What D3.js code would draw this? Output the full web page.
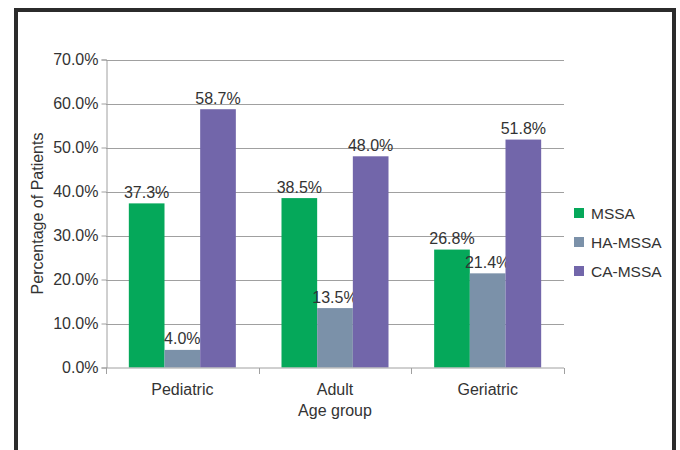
<!DOCTYPE html>
<html><head><meta charset="utf-8">
<script src="https://cdn.jsdelivr.net/npm/d3@7"></script>
<style>body{margin:0;background:#fff}svg{display:block}text{font-family:"Liberation Sans",Arial,sans-serif;fill:#333}</style>
</head><body>
<script>
const categories = ["Pediatric", "Adult", "Geriatric"];
const seriesNames = ["MSSA", "HA-MSSA", "CA-MSSA"];
const mssa = [37.3, 38.5, 26.8];
const haMssa = [4.0, 13.5, 21.4];
const caMssa = [58.7, 48.0, 51.8];
const yTicks = [0, 10, 20, 30, 40, 50, 60, 70];
const colors = ["#05a85a", "#7b91a9", "#7266aa"];

(function () {
const series = [mssa, haMssa, caMssa];
const W = 680, H = 450, FS = 16;
const svg = d3.select("body").append("svg").attr("width", W).attr("height", H);

// frame
svg.append("rect").attr("x", 16).attr("y", 10).attr("width", 658).attr("height", 460)
  .attr("fill", "none").attr("stroke", "#2b2b2b").attr("stroke-width", 4);

const pL = 106, pR = 564, pT = 59.5, pB = 367.5;
const x0 = d3.scaleBand().domain(categories).range([pL, pR]);
const x1 = d3.scaleBand().domain(seriesNames).range([0, x0.bandwidth()]).paddingOuter(0.64).paddingInner(0);
const y = d3.scaleLinear().domain([0, 70]).range([pB, pT]);

// gridlines
svg.append("g").selectAll("line").data(yTicks.filter(d => d > 0)).join("line")
  .attr("x1", pL).attr("x2", pR).attr("y1", d => Math.round(y(d)) + 0.5).attr("y2", d => Math.round(y(d)) + 0.5)
  .attr("stroke", "#a0a0a0").attr("stroke-width", 1);

// bars
const g = svg.append("g");
categories.forEach((c, i) => {
  seriesNames.forEach((s, j) => {
    const v = series[j][i];
    g.append("rect").attr("x", x0(c) + x1(s)).attr("width", x1.bandwidth())
      .attr("y", y(v)).attr("height", y(0) - y(v)).attr("fill", colors[j]);
    g.append("text").attr("x", x0(c) + x1(s) + x1.bandwidth() / 2).attr("y", y(v) - 5.5)
      .attr("text-anchor", "middle").attr("font-size", FS).text(v.toFixed(1) + "%");
  });
});

// y axis
const yAxis = d3.axisLeft(y).tickValues(yTicks).tickFormat(d => d.toFixed(1) + "%").tickSize(5).tickPadding(3);
const ya = svg.append("g").attr("transform", `translate(${pL + 0.5},0)`).call(yAxis);
ya.select(".domain").attr("stroke", "#a0a0a0");
ya.selectAll(".tick line").attr("stroke", "#a0a0a0");
ya.selectAll(".tick text").attr("font-size", FS).attr("fill", "#333").style("font-family", '"Liberation Sans",Arial,sans-serif');

// x axis
const xa = svg.append("g").attr("transform", `translate(0,${pB + 0.5})`);
xa.append("line").attr("x1", pL).attr("x2", pR).attr("stroke", "#a0a0a0");
const bounds = [pL, ...categories.map(c => x0(c) + x0.bandwidth())];
xa.selectAll("line.tk").data(bounds).join("line").attr("class", "tk")
  .attr("x1", d => Math.round(d) + 0.5).attr("x2", d => Math.round(d) + 0.5).attr("y1", 0).attr("y2", 6).attr("stroke", "#a0a0a0");
xa.selectAll("text").data(categories).join("text")
  .attr("x", d => x0(d) + x0.bandwidth() / 2).attr("y", 27).attr("text-anchor", "middle").attr("font-size", FS).text(d => d);

// axis titles
svg.append("text").attr("x", (pL + pR) / 2).attr("y", 416).attr("text-anchor", "middle").attr("font-size", FS).text("Age group");
svg.append("text").attr("transform", `translate(43,${(pT + pB) / 2}) rotate(-90)`).attr("text-anchor", "middle").attr("font-size", FS).text("Percentage of Patients");

// legend
const lg = svg.append("g").attr("transform", "translate(574,208)");
seriesNames.forEach((s, i) => {
  lg.append("rect").attr("x", 0).attr("y", i * 29).attr("width", 10).attr("height", 10).attr("fill", colors[i]);
  lg.append("text").attr("x", 17).attr("y", i * 29 + 11).attr("font-size", 15.5).text(s);
});
})();
</script>
</body></html>
